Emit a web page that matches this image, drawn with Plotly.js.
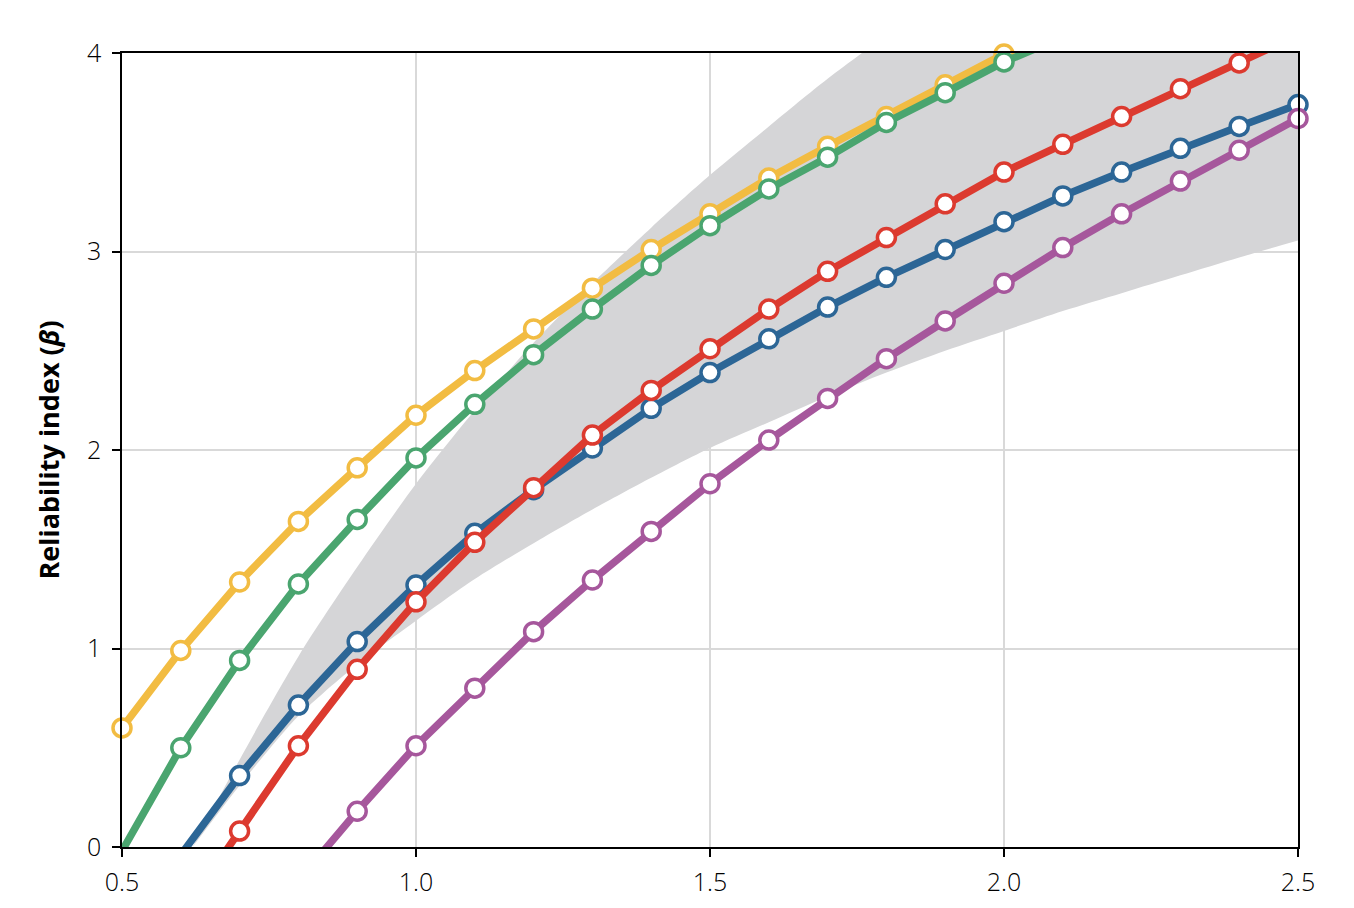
<!DOCTYPE html>
<html>
<head>
<meta charset="utf-8">
<script src="https://cdn.plot.ly/plotly-3.0.1.min.js"></script>
<style>
  html, body { margin: 0; padding: 0; background: #fff; }
  #chart { width: 1354px; height: 908px; }
</style>
</head>
<body>
<div id="chart"></div>
<script>
// x positions of the computed points
var xs = [0.5, 0.6, 0.7, 0.8, 0.9, 1.0, 1.1, 1.2, 1.3, 1.4, 1.5,
          1.6, 1.7, 1.8, 1.9, 2.0, 2.1, 2.2, 2.3, 2.4, 2.5];

// reliability index per series
var yellow = [0.60, 0.99, 1.335, 1.64, 1.91, 2.175, 2.40, 2.61, 2.815, 3.01, 3.19,
              3.37, 3.53, 3.68, 3.84, 3.995, 4.15, null, null, null, null];
var green  = [-0.02, 0.50, 0.94, 1.325, 1.65, 1.96, 2.23, 2.48, 2.71, 2.93, 3.13,
              3.315, 3.475, 3.65, 3.80, 3.955, 4.08, null, null, null, null];
var blue   = [null, -0.04, 0.36, 0.715, 1.035, 1.32, 1.58, 1.80, 2.01, 2.21, 2.39,
              2.56, 2.72, 2.87, 3.01, 3.15, 3.28, 3.40, 3.52, 3.63, 3.74];
var red    = [null, -0.35, 0.08, 0.51, 0.895, 1.235, 1.535, 1.81, 2.075, 2.30, 2.51,
              2.71, 2.90, 3.07, 3.24, 3.40, 3.54, 3.68, 3.82, 3.95, 4.09];
var purple = [null, null, null, -0.17, 0.18, 0.51, 0.80, 1.085, 1.345, 1.59, 1.83,
              2.05, 2.26, 2.46, 2.65, 2.84, 3.02, 3.19, 3.355, 3.51, 3.67];

// grey envelope
var bandX     = [0.62, 0.7, 0.8, 0.9, 1.0, 1.1, 1.2, 1.3, 1.4, 1.5, 1.6, 1.7, 1.8,
                 1.9, 2.0, 2.1, 2.2, 2.3, 2.4, 2.5];
var bandUpper = [0, 0.44, 0.96, 1.41, 1.83, 2.20, 2.54, 2.84, 3.12, 3.385, 3.63, 3.87, 4.09,
                 4.30, 4.50, 4.69, 4.87, 5.03, 5.19, 5.35];
var bandLower = [0, 0.31, 0.66, 0.92, 1.14, 1.35, 1.53, 1.70, 1.86, 2.01, 2.14, 2.27, 2.39,
                 2.50, 2.60, 2.70, 2.79, 2.88, 2.97, 3.055];

var colors = {
  yellow: '#f2bc42',
  green: '#4aa56f',
  blue: '#2c6696',
  red: '#dc3a2f',
  purple: '#a6579c'
};

var tickFont = {family: 'Open Sans, sans-serif', size: 25, weight: 300, stretch: 'condensed', color: '#000'};

function series(ys, color) {
  // hide markers that fall outside the plotted range
  var sizes = ys.map(function (v) {
    return (v === null || v < 0 || v > 4.02) ? 0 : 18;
  });
  return {
    x: xs,
    y: ys,
    type: 'scatter',
    mode: 'lines+markers',
    cliponaxis: false,
    line: {color: color, width: 7.5},
    marker: {
      size: sizes,
      opacity: 1,
      color: '#ffffff',
      line: {color: color, width: 3.5}
    },
    hoverinfo: 'x+y',
    showlegend: false
  };
}

var bandLow = {
  x: bandX,
  y: bandLower,
  type: 'scatter',
  mode: 'lines',
  line: {width: 0, shape: 'spline', smoothing: 0.8},
  hoverinfo: 'skip',
  showlegend: false
};

var bandHigh = {
  x: bandX,
  y: bandUpper,
  type: 'scatter',
  mode: 'lines',
  fill: 'tonexty',
  fillcolor: '#d5d5d7',
  line: {width: 0, shape: 'spline', smoothing: 0.8},
  hoverinfo: 'skip',
  showlegend: false
};

var data = [
  bandLow,
  bandHigh,
  series(yellow, colors.yellow),
  series(green, colors.green),
  series(blue, colors.blue),
  series(red, colors.red),
  series(purple, colors.purple)
];

var layout = {
  width: 1354,
  height: 908,
  margin: {l: 122, r: 56, t: 53, b: 61},
  paper_bgcolor: '#ffffff',
  plot_bgcolor: '#ffffff',
  font: {family: 'Open Sans, sans-serif', color: '#000'},
  xaxis: {
    range: [0.5, 2.5],
    dtick: 0.5,
    tick0: 0.5,
    tickformat: '.1f',
    ticks: 'outside',
    ticklen: 8,
    tickwidth: 1.5,
    tickcolor: '#000',
    ticklabelstandoff: 4,
    showline: true,
    linecolor: '#000',
    linewidth: 1.5,
    mirror: true,
    showgrid: true,
    gridcolor: '#d9d9d9',
    gridwidth: 1.5,
    zeroline: false,
    tickfont: tickFont
  },
  yaxis: {
    range: [0, 4],
    dtick: 1,
    ticks: 'outside',
    ticklen: 8,
    tickwidth: 1.5,
    tickcolor: '#000',
    ticklabelstandoff: 6,
    showline: true,
    linecolor: '#000',
    linewidth: 1.5,
    mirror: true,
    showgrid: true,
    gridcolor: '#d9d9d9',
    gridwidth: 1.5,
    zeroline: false,
    tickfont: tickFont,
    title: {
      text: '<b>Reliability index (<i>β</i>)</b>',
      font: {size: 27, color: '#000'},
      standoff: 20
    }
  }
};

Plotly.newPlot('chart', data, layout, {displayModeBar: false});
</script>
</body>
</html>
